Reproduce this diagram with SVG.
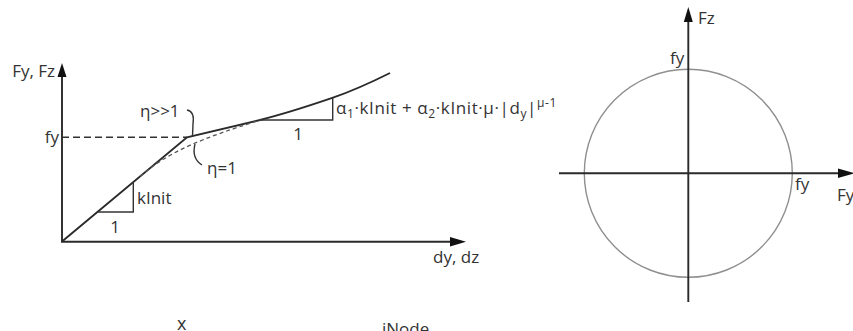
<svg xmlns="http://www.w3.org/2000/svg" width="853" height="331" viewBox="0 0 853 331">
<style>
text{font-family:"Open Sans","Liberation Sans",sans-serif;font-size:17px;fill:#333}
.sm{font-size:12px}
.ax{stroke:#2a2a2a;stroke-width:1.9;fill:none}
.cv{stroke:#2a2a2a;stroke-width:1.9;fill:none}
.thin{stroke:#333;stroke-width:1.4;fill:none}
.dash{stroke:#333;stroke-width:1.5;fill:none;stroke-dasharray:7 4}
.dash2{stroke:#555;stroke-width:1.3;fill:none;stroke-dasharray:4 3}
.circ{stroke:#8f8f8f;stroke-width:1.4;fill:none}
.ah{fill:#111}
</style>
<rect width="853" height="331" fill="#fff"/>
<g id="left-chart">
  <g id="axes-left">
    <line class="ax" x1="62" y1="242" x2="62" y2="74"/>
    <polygon class="ah" points="62,63 57.5,77 66.5,77"/>
    <line class="ax" x1="61" y1="241.7" x2="452" y2="241.7"/>
    <polygon class="ah" points="466,241.7 450,237 450,246.4"/>
    <text x="55" y="77" text-anchor="end">Fy, Fz</text>
    <text x="433" y="263">dy, dz</text>
  </g>
  <g id="yield-line">
    <line class="dash" x1="62" y1="137.3" x2="187" y2="137.3"/>
    <text x="59" y="143" text-anchor="end">fy</text>
  </g>
  <g id="curves">
    <path class="cv" d="M62,241.5 L187,137.3 L260,120 C272,117 300,109 333,97.7 C352,91 372,82 390,73"/>
    <path class="dash2" d="M140,176.3 C170,151 200,139 262,119.5"/>
  </g>
  <g id="slope-kinit">
    <path class="thin" d="M97.7,212 H133.3 V181.9"/>
    <text x="137" y="204">kInit</text>
    <text x="115" y="233" text-anchor="middle">1</text>
  </g>
  <g id="slope-hardening">
    <path class="thin" d="M260,120 H332.7 V97.7"/>
    <text x="298" y="140" text-anchor="middle">1</text>
    <text x="336" y="114" style="letter-spacing:0.6px">α<tspan class="sm" dy="4">1</tspan><tspan dy="-4">·kInit + α</tspan><tspan class="sm" dy="4">2</tspan><tspan dy="-4">·kInit·μ·|d</tspan><tspan class="sm" dy="4">y</tspan><tspan dy="-4">|</tspan><tspan class="sm" dy="-7">μ-1</tspan></text>
  </g>
  <g id="eta-large">
    <path class="thin" d="M187,110 C193,111 194,117 193,124 L192.5,136"/>
    <text x="140" y="117">η&gt;&gt;1</text>
  </g>
  <g id="eta-one">
    <path class="thin" d="M195,144 C193,152 194,160 202,165"/>
    <text x="207" y="174">η=1</text>
  </g>
</g>
<g id="right-chart">
  <circle id="yield-circle" class="circ" cx="688.3" cy="173.3" r="104"/>
  <g id="axes-right">
    <line class="ax" x1="688.3" y1="302" x2="688.3" y2="20"/>
    <polygon class="ah" points="688.3,7 683.8,22 692.8,22"/>
    <line class="ax" x1="559" y1="173.3" x2="840" y2="173.3"/>
    <polygon class="ah" points="855,173.3 838,168.5 838,178.1"/>
    <text x="698" y="24">Fz</text>
    <text x="837" y="201">Fy</text>
  </g>
  <text x="670" y="64">fy</text>
  <text x="795" y="190">fy</text>
</g>
<g id="cut-labels">
  <text x="177" y="330" style="font-size:18px">x</text>
  <text x="382" y="335">iNode</text>
</g>
</svg>
